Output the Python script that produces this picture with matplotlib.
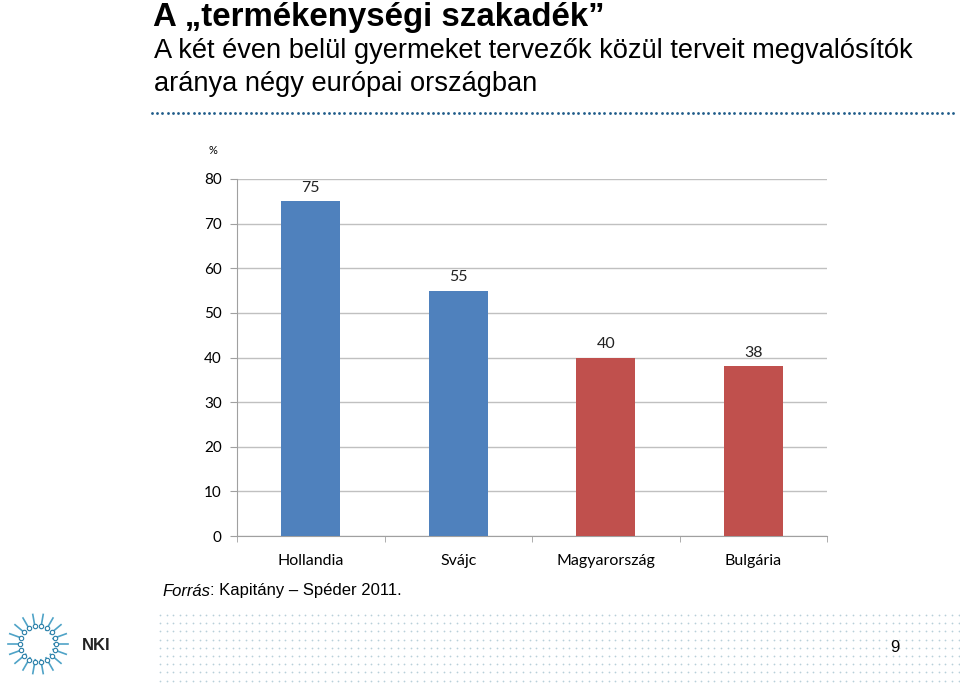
import numpy as np
import matplotlib.pyplot as plt

countries = ["Hollandia", "Svájc", "Magyarország", "Bulgária"]
shares = [75, 55, 40, 38]
bar_colors = ["#4f81bd", "#4f81bd", "#c0504d", "#c0504d"]
y_ticks = [0, 10, 20, 30, 40, 50, 60, 70, 80]

W, H = 960, 685
fig = plt.figure(figsize=(W / 100, H / 100), dpi=100)

# page overlay in pixel coordinates
deco = fig.add_axes([0, 0, 1, 1])
deco.set_xlim(0, W)
deco.set_ylim(H, 0)
deco.axis("off")

deco.text(153, 17, "A „termékenységi szakadék”", family="Liberation Sans",
          fontsize=23.8, fontweight="bold", va="center", ha="left")
deco.text(154, 51, "A két éven belül gyermeket tervezők közül terveit megvalósítók",
          family="Liberation Sans", fontsize=19.6, va="center", ha="left")
deco.text(154, 84, "aránya négy európai országban",
          family="Liberation Sans", fontsize=19.6, va="center", ha="left")

# dotted separator under the title
xs = np.arange(152, 956, 5.2)
deco.scatter(xs, np.full_like(xs, 113), s=4, color="#1f5c8a", lw=0)

# dotted footer band
gx, gy = np.meshgrid(np.arange(160, 960, 6.6), np.arange(615, 682, 8.2))
deco.scatter(gx.ravel(), gy.ravel(), s=1.6, color="#b8cfd9", lw=0)
deco.text(895, 647, "9", family="Liberation Sans", fontsize=12,
          va="center", ha="center")

# simple logo stand-in
ang = np.linspace(0, 2 * np.pi, 18, endpoint=False)
cx, cy = 38, 644
for a in ang:
    deco.plot([cx + 16 * np.cos(a), cx + 30 * np.cos(a)],
              [cy + 16 * np.sin(a), cy + 30 * np.sin(a)],
              color="#4fa3c7", lw=1.2)
    deco.scatter(cx + 18 * np.cos(a), cy + 18 * np.sin(a), s=10,
                 facecolor="white", edgecolor="#2a7fa8", lw=0.8, zorder=3)
deco.text(82, 645, "NKI", family="Liberation Sans", fontsize=12,
          fontweight="bold", va="center", ha="left", color="#222222")

src = deco.text(162, 591, "Forrás", family="Liberation Sans", fontsize=12,
                style="italic", va="center", ha="left")
deco.annotate(": Kapitány – Spéder 2011.", xy=(1, 0.5), xycoords=src,
              family="Liberation Sans", fontsize=12, va="center", ha="left")

# chart
ax = fig.add_axes([237 / W, 149 / H, 590 / W, 357 / H])
x = np.arange(len(countries))
bars = ax.bar(x, shares, width=0.4, color=bar_colors, zorder=3)
for xi, v in zip(x, shares):
    ax.text(xi, v + 1.5, str(v), ha="center", va="bottom",
            family="Lato", fontsize=11.5, color="#222222")

ax.set_xlim(-0.5, len(countries) - 0.5)
ax.set_ylim(0, 80)
ax.set_yticks(y_ticks)
ax.set_yticklabels([str(t) for t in y_ticks], family="Lato", fontsize=11)
ax.set_xticks(x)
ax.set_xticklabels(countries, family="Lato", fontsize=11.5)
ax.set_xticks(np.arange(-0.5, len(countries)), minor=True)
ax.tick_params(axis="x", which="major", length=0, pad=13)
ax.tick_params(axis="x", which="minor", length=4, color="#a0a0a0")
ax.tick_params(axis="y", length=5, color="#a0a0a0", pad=6)
ax.yaxis.grid(True, color="#c0c0c0", lw=1, zorder=0)
for side in ["top", "right"]:
    ax.spines[side].set_visible(False)
for side in ["left", "bottom"]:
    ax.spines[side].set_color("#a0a0a0")
ax.text(-0.033, 1.08, "%", transform=ax.transAxes, ha="right", va="center",
        family="Lato", fontsize=8)

fig.savefig("out.png", dpi=100)
